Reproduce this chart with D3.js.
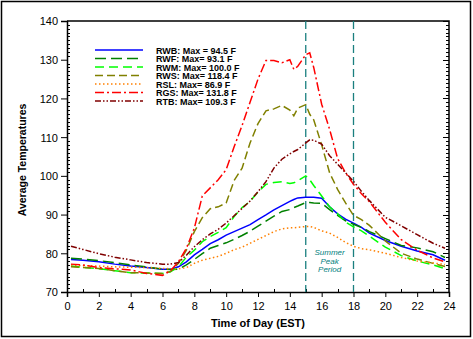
<!DOCTYPE html>
<html>
  <head>
    <meta charset="UTF-8" />
    <style>
      body { margin: 0; background: #fff; }
      svg text { font-family: Arial, "Liberation Sans", sans-serif; }
    </style>
  </head>
  <body>
    <svg></svg>
    <script src="https://d3js.org/d3.v7.min.js"></script>
    <script>
      let width = 473,
        height = 339;

      // hours of the day at which each site was sampled
      const hours = [0.25, 1, 2, 3, 4, 5, 6, 6.5, 7, 7.5, 8, 8.5, 9, 9.5, 10, 10.5, 11, 11.5, 12, 12.5,
        13, 13.5, 14, 14.25, 14.5, 15, 15.25, 15.5, 16, 16.5, 17, 17.5, 18, 18.5, 19, 20, 21, 22, 23, 23.75];

      const rwb = [78.4, 78.2, 77.8, 77.2, 76.7, 76.3, 75.9, 75.9, 76.5, 77.8, 79.6, 81.0, 82.5, 83.5, 84.7, 85.6, 86.5, 87.4, 88.7, 89.9,
        91.2, 92.3, 93.4, 93.9, 94.3, 94.5, 94.5, 94.5, 94.2, 92.0, 90.2, 88.8, 87.8, 86.7, 85.2, 83.3, 81.8, 80.6, 79.6, 78.2];
      const rwf = [78.7, 78.5, 78.1, 77.6, 77.0, 76.5, 75.9, 75.8, 75.9, 77.0, 78.4, 79.9, 81.3, 82.0, 82.7, 83.6, 84.6, 85.7, 87.0, 88.3,
        89.6, 90.8, 91.3, 91.8, 92.2, 93.1, 93.1, 93.0, 92.9, 91.3, 89.8, 88.4, 87.5, 86.7, 85.6, 83.8, 82.0, 81.4, 80.4, 78.9];
      const rwm = [76.7, 76.4, 76.0, 75.5, 75.0, 74.9, 74.8, 75.2, 76.5, 79.0, 80.8, 83.0, 84.3, 85.4, 86.6, 89.5, 91.8, 93.4, 95.8, 97.8,
        98.3, 98.5, 98.0, 98.2, 98.7, 100.0, 99.0, 97.5, 94.8, 92.0, 90.2, 88.1, 86.8, 85.8, 84.4, 81.6, 79.4, 78.0, 77.0, 76.0];
      const rws = [76.5, 76.3, 76.1, 75.5, 75.0, 74.9, 74.8, 75.3, 77.4, 80.8, 85.6, 89.2, 91.5, 92.0, 93.0, 98.8, 102.0, 108.5, 113.5, 116.8,
        117.3, 118.2, 117.0, 115.5, 117.5, 118.4, 115.9, 114.5, 108.0, 100.8, 96.5, 93.0, 89.8, 88.7, 87.2, 83.2, 80.0, 78.5, 77.4, 76.6];
      const rsl = [77.0, 76.8, 76.7, 76.5, 76.4, 76.3, 76.1, 76.0, 76.0, 76.3, 77.4, 78.2, 78.7, 79.2, 80.0, 80.9, 81.6, 82.6, 83.6, 84.6,
        85.6, 86.3, 86.6, 86.6, 86.7, 86.9, 86.9, 86.7, 85.8, 85.2, 84.1, 82.8, 81.8, 81.2, 80.9, 80.0, 78.9, 78.0, 77.5, 77.1];
      const rgs = [77.2, 77.0, 76.3, 76.0, 75.7, 74.8, 74.3, 75.5, 77.8, 81.3, 86.5, 94.8, 96.9, 99.0, 101.6, 107.5, 113.0, 119.0, 125.0, 129.8,
        129.8, 129.2, 130.0, 127.5, 128.3, 131.3, 131.8, 128.0, 118.5, 112.0, 104.5, 100.8, 97.8, 95.4, 93.3, 88.0, 83.5, 80.8, 78.8, 77.8];
      const rtb = [81.8, 81.0, 79.9, 79.0, 78.3, 77.6, 77.2, 77.2, 77.6, 79.5, 81.7, 83.5, 85.0, 86.2, 87.8, 89.7, 91.6, 93.5, 95.9, 98.5,
        102.0, 104.3, 105.7, 106.3, 106.8, 108.5, 109.3, 109.2, 108.2, 105.2, 103.0, 100.8, 98.6, 96.0, 93.6, 89.3, 87.1, 84.8, 82.6, 81.3];

      const seriesNames = ["RWB", "RWF", "RWM", "RWS", "RSL", "RGS", "RTB"];
      const seriesValues = [rwb, rwf, rwm, rws, rsl, rgs, rtb];
      const legendLabels = [
        "RWB: Max = 94.5 F",
        "RWF: Max= 93.1 F",
        "RWM: Max= 100.0 F",
        "RWS: Max= 118.4 F",
        "RSL: Max= 86.9 F",
        "RGS: Max= 131.8 F",
        "RTB: Max= 109.3 F",
      ];
      const peakHours = [15, 18];
      const peakLabel = ["Summer", "Peak", "Period"];
      const xTicks = d3.range(0, 25, 2);
      const yTicks = d3.range(70, 141, 10);

      const colors = ["#0000ff", "#008000", "#00ff00", "#808000", "#ff8000", "#ff0000", "#800000"];
      const dashes = [null, "11,5", "9,5", "8,4", "1.5,2.5", "9,3,2,3", "6,2,1.5,2,1.5,2"];

      let svg = d3.select("svg").attr("width", width).attr("height", height);

      // outer frame
      svg.append("rect")
        .attr("x", 1.5).attr("y", 1.5)
        .attr("width", 469).attr("height", 335)
        .attr("fill", "none").attr("stroke", "#000").attr("stroke-width", 1.5);

      let margin = { left: 67, right: 449, top: 21, bottom: 292 };

      let x = d3.scaleLinear().domain([0, 24]).range([margin.left, margin.right]);
      let y = d3.scaleLinear().domain([70, 140]).range([margin.bottom, margin.top]);

      // minor ticks (inside the frame)
      let minorY = d3.range(70, 141, 1).filter((v) => v % 10 != 0);
      svg.append("g").selectAll("line").data(minorY).enter().append("line")
        .attr("x1", margin.left).attr("x2", margin.left + 3)
        .attr("y1", (d) => Math.round(y(d)) + 0.5).attr("y2", (d) => Math.round(y(d)) + 0.5)
        .attr("stroke", "#000");
      svg.append("g").selectAll("line").data(minorY).enter().append("line")
        .attr("x1", margin.right - 3).attr("x2", margin.right)
        .attr("y1", (d) => Math.round(y(d)) + 0.5).attr("y2", (d) => Math.round(y(d)) + 0.5)
        .attr("stroke", "#000");
      svg.append("g").selectAll("line").data(yTicks).enter().append("line")
        .attr("x1", margin.right - 6).attr("x2", margin.right)
        .attr("y1", (d) => Math.round(y(d)) + 0.5).attr("y2", (d) => Math.round(y(d)) + 0.5)
        .attr("stroke", "#000");
      let minorX = d3.range(1, 24, 2);
      svg.append("g").selectAll("line").data(minorX).enter().append("line")
        .attr("x1", (d) => Math.round(x(d)) + 0.5).attr("x2", (d) => Math.round(x(d)) + 0.5)
        .attr("y1", margin.bottom - 3).attr("y2", margin.bottom)
        .attr("stroke", "#000");

      // axes
      let yAxis = svg.append("g")
        .attr("transform", "translate(" + margin.left + ",0)")
        .call(d3.axisLeft(y).tickValues(yTicks).tickSize(6).tickPadding(3));
      let xAxis = svg.append("g")
        .attr("transform", "translate(0," + margin.bottom + ")")
        .call(d3.axisBottom(x).tickValues(xTicks).tickSize(5).tickPadding(5));
      [yAxis, xAxis].forEach((g) => {
        g.select(".domain").attr("stroke", "#000").attr("stroke-width", 1.5);
        g.selectAll("text").attr("font-size", 11).attr("fill", "#000")
          .style("font-family", "Arial, 'Liberation Sans', sans-serif");
      });
      yAxis.selectAll("text").attr("dy", "0.36em");

      // top and right border of the plot
      svg.append("path")
        .attr("d", "M" + margin.left + "," + margin.top + "H" + margin.right + "V" + margin.bottom)
        .attr("fill", "none").attr("stroke", "#000").attr("stroke-width", 1.5);

      // summer peak period markers
      svg.append("g").selectAll("line").data(peakHours).enter().append("line")
        .attr("x1", (d) => x(d)).attr("x2", (d) => x(d))
        .attr("y1", margin.top).attr("y2", margin.bottom)
        .attr("stroke", "#1a7f7f").attr("stroke-width", 1.3)
        .attr("stroke-dasharray", "8,4");

      svg.append("g").selectAll("text").data(peakLabel).enter().append("text")
        .attr("x", x(16.5))
        .attr("y", (d, i) => 255 + i * 8.5)
        .attr("text-anchor", "middle")
        .attr("font-size", 8).attr("font-style", "italic")
        .attr("fill", "#008080")
        .text((d) => d);

      // temperature lines
      let line = d3.line()
        .x((d) => x(d[0]))
        .y((d) => y(d[1]));

      svg.append("g").selectAll("path")
        .data(seriesValues)
        .enter()
        .append("path")
        .attr("d", (vals) => line(vals.map((v, i) => [hours[i], v])))
        .attr("fill", "none")
        .attr("stroke", (d, i) => colors[i])
        .attr("stroke-width", 1.5)
        .attr("stroke-dasharray", (d, i) => dashes[i]);

      // legend
      let legend = svg.append("g").attr("class", "legend");
      let rows = legend.selectAll("g").data(seriesNames).enter().append("g")
        .attr("transform", (d, i) => "translate(0," + (50 + i * 8.5) + ")");
      rows.append("line")
        .attr("x1", 95).attr("x2", 143).attr("y1", 0).attr("y2", 0)
        .attr("stroke", (d, i) => colors[i])
        .attr("stroke-width", 1.5)
        .attr("stroke-dasharray", (d, i) => dashes[i]);
      rows.append("text")
        .attr("x", 156).attr("y", 3.5)
        .attr("font-size", 9).attr("font-weight", "bold")
        .text((d, i) => legendLabels[i]);

      // axis titles
      svg.append("text")
        .attr("x", x(12)).attr("y", 327)
        .attr("text-anchor", "middle")
        .attr("font-size", 11).attr("font-weight", "bold")
        .text("Time of Day (EST)");
      svg.append("text")
        .attr("transform", "translate(26," + 160 + ") rotate(-90)")
        .attr("text-anchor", "middle")
        .attr("font-size", 10.5).attr("font-weight", "bold")
        .text("Average Temperatures");
    </script>
  </body>
</html>
